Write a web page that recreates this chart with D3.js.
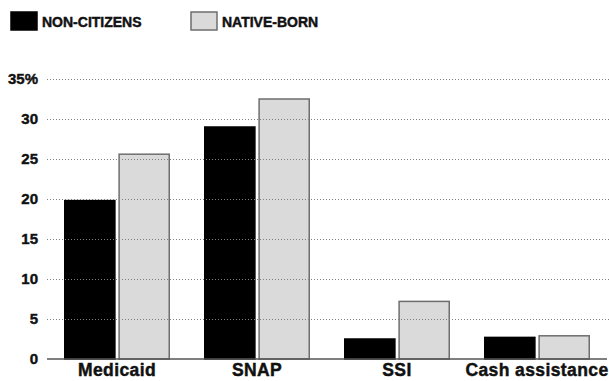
<!DOCTYPE html>
<html>
<head>
<meta charset="utf-8">
<script src="https://cdn.jsdelivr.net/npm/d3@7"></script>
<style>
  html, body { margin: 0; padding: 0; background: #fff; }
  svg { display: block; }
  text { font-family: "Liberation Sans", Arial, sans-serif; font-weight: bold; fill: #111; }
</style>
</head>
<body>
<svg id="chart" width="609" height="381"></svg>
<script>
// Share of households receiving each benefit, by citizenship
const categories = ["Medicaid", "SNAP", "SSI", "Cash assistance"];
const seriesNames = ["NON-CITIZENS", "NATIVE-BORN"];
const nonCitizens = [19.8, 29.0, 2.5, 2.7];
const nativeBorn = [25.6, 32.5, 7.2, 2.9];
const yTicks = [0, 5, 10, 15, 20, 25, 30, 35];

const fills = { "NON-CITIZENS": "#000000", "NATIVE-BORN": "#dadada" };
const strokes = { "NON-CITIZENS": "#000000", "NATIVE-BORN": "#6e6e6e" };

const rows = categories.map((c, i) => ({
  category: c,
  values: [
    { series: seriesNames[0], value: nonCitizens[i] },
    { series: seriesNames[1], value: nativeBorn[i] }
  ]
}));

const svg = d3.select("#chart");
const plotLeft = 47, plotRight = 607, plotTop = 79, plotBottom = 359;

const x0 = d3.scaleBand()
  .domain(categories)
  .range([plotLeft, plotRight])
  .paddingInner(0.243)
  .paddingOuter(0.1215);

const x1 = d3.scaleBand()
  .domain(seriesNames)
  .range([0, x0.bandwidth()])
  .paddingInner(0.05);

const y = d3.scaleLinear().domain([0, 35]).range([plotBottom, plotTop]);

// Heavy label style shared by all text
function heavy(sel, size, color) {
  sel.style("font-family", "'Liberation Sans', Arial, sans-serif")
    .style("font-weight", "bold")
    .style("font-size", size)
    .attr("fill", color)
    .attr("stroke", color)
    .attr("stroke-width", 0.45)
    .attr("paint-order", "stroke");
}

// Bars
const groups = svg.append("g").selectAll("g")
  .data(rows)
  .join("g")
  .attr("transform", d => `translate(${x0(d.category)},0)`);

groups.selectAll("rect")
  .data(d => d.values)
  .join("rect")
  .attr("x", d => x1(d.series) + 0.75)
  .attr("width", x1.bandwidth() - 1.5)
  .attr("y", d => y(d.value))
  .attr("height", d => y(0) - y(d.value))
  .attr("fill", d => fills[d.series])
  .attr("stroke", d => strokes[d.series])
  .attr("stroke-width", 1.5);

// Dotted gridlines, drawn over the bars
const grid = svg.append("g")
  .attr("transform", `translate(${plotLeft},0)`)
  .call(d3.axisLeft(y).tickValues(yTicks.filter(t => t > 0)).tickSize(-(609 - plotLeft)).tickFormat(""));
grid.select(".domain").remove();
grid.selectAll(".tick line")
  .attr("stroke", "#808080")
  .attr("stroke-width", 1)
  .attr("stroke-dasharray", "1,2");

// Y-axis labels
const yAxis = svg.append("g")
  .attr("transform", `translate(${plotLeft},0)`)
  .call(d3.axisLeft(y).tickValues(yTicks).tickSize(0).tickPadding(9)
    .tickFormat(d => d === 35 ? "35%" : d));
yAxis.select(".domain").remove();
yAxis.selectAll("text").call(heavy, "15px", "#222");

// Baseline
svg.append("line")
  .attr("x1", plotLeft).attr("x2", plotRight)
  .attr("y1", y(0)).attr("y2", y(0))
  .attr("stroke", "#555").attr("stroke-width", 1.5);

// Category labels
const xAxis = svg.append("g")
  .attr("transform", `translate(0,${plotBottom})`)
  .call(d3.axisBottom(x0).tickSize(0).tickPadding(5));
xAxis.select(".domain").remove();
xAxis.selectAll("text")
  .call(heavy, "17.5px", "#111")
  .style("letter-spacing", "0.4px");

// Legend
const legendX = [11, 191];
const legend = svg.append("g").selectAll("g")
  .data(seriesNames)
  .join("g")
  .attr("transform", (d, i) => `translate(${legendX[i]},12)`);
legend.append("rect")
  .attr("width", 26).attr("height", 18)
  .attr("fill", d => fills[d])
  .attr("stroke", d => strokes[d])
  .attr("stroke-width", 1.5);
legend.append("text")
  .attr("x", 31).attr("y", 14.5)
  .text(d => d)
  .call(heavy, "14px", "#111");
</script>
</body>
</html>
